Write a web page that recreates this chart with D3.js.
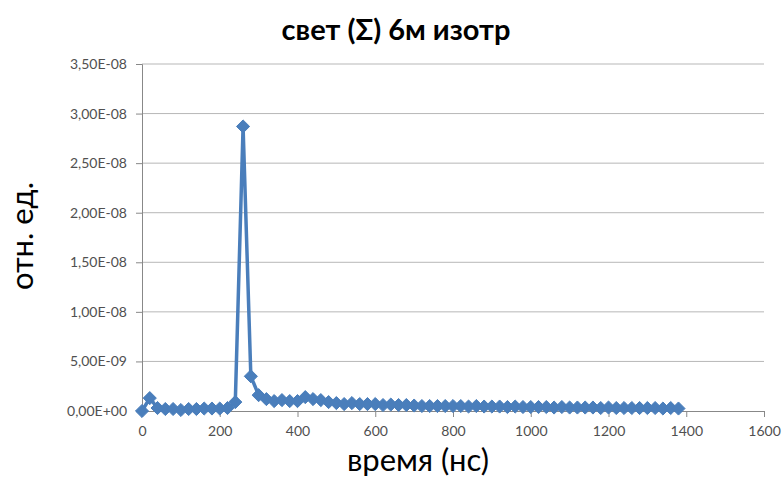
<!DOCTYPE html>
<html>
<head>
<meta charset="utf-8">
<script src="https://cdn.jsdelivr.net/npm/d3@7"></script>
<style>
  body { margin: 0; background: #fff; }
  text { font-family: Lato, "Open Sans", sans-serif; }
</style>
</head>
<body>
<div id="chart"></div>
<script>
// time, ns
const times = [0, 20, 40, 60, 80, 100, 120, 140, 160, 180, 200, 220, 240, 260, 280, 300, 320, 340, 360, 380,
  400, 420, 440, 460, 480, 500, 520, 540, 560, 580, 600, 620, 640, 660, 680, 700, 720, 740, 760, 780,
  800, 820, 840, 860, 880, 900, 920, 940, 960, 980, 1000, 1020, 1040, 1060, 1080, 1100, 1120, 1140, 1160, 1180,
  1200, 1220, 1240, 1260, 1280, 1300, 1320, 1340, 1360, 1380];
// light, rel. units
const light = [0, 1.3e-9, 3e-10, 2e-10, 2e-10, 1e-10, 2e-10, 2e-10, 2.5e-10, 2.5e-10, 2.5e-10, 3e-10, 9e-10, 2.87e-8, 3.5e-9, 1.6e-9, 1.2e-9, 1.0e-9, 1.1e-9, 1.0e-9,
  1.0e-9, 1.4e-9, 1.2e-9, 1.1e-9, 9e-10, 8e-10, 7e-10, 8e-10, 7e-10, 7e-10, 7e-10, 6e-10, 6.5e-10, 6e-10, 6e-10, 5.5e-10, 5e-10, 5e-10, 5e-10, 5e-10,
  5e-10, 5e-10, 4.5e-10, 5e-10, 4.5e-10, 4.5e-10, 4.5e-10, 4e-10, 4.5e-10, 4e-10, 4e-10, 4e-10, 4e-10, 3.5e-10, 4e-10, 3.5e-10, 3.5e-10, 3.5e-10, 3.5e-10, 3e-10,
  3.5e-10, 3e-10, 3e-10, 3e-10, 3e-10, 3e-10, 3e-10, 2.5e-10, 3e-10, 2.5e-10];

const xTicks = [0, 200, 400, 600, 800, 1000, 1200, 1400, 1600];
const yTicks = [0, 5e-9, 1e-8, 1.5e-8, 2e-8, 2.5e-8, 3e-8, 3.5e-8];
const yTickLabels = ["0,00E+00", "5,00E-09", "1,00E-08", "1,50E-08", "2,00E-08", "2,50E-08", "3,00E-08", "3,50E-08"];

const W = 782, H = 482;
const svg = d3.select("#chart").append("svg").attr("width", W).attr("height", H);

const x = d3.scaleLinear().domain([0, 1600]).range([142, 764]);
const y = d3.scaleLinear().domain([0, 3.5e-8]).range([411, 64]);

// gridlines
svg.append("g").selectAll("line").data(yTicks.slice(1)).enter().append("line")
  .attr("x1", x(0)).attr("x2", x(1600))
  .attr("y1", d => y(d)).attr("y2", d => y(d))
  .attr("stroke", "#b7b7b7").attr("stroke-width", 1);

const gy = svg.append("g").attr("transform", `translate(${x(0)},0)`)
  .call(d3.axisLeft(y).tickValues(yTicks).tickSize(6).tickPadding(9)
    .tickFormat((d, i) => yTickLabels[i]));
const gx = svg.append("g").attr("transform", `translate(0,${y(0)})`)
  .call(d3.axisBottom(x).tickValues(xTicks).tickSize(6).tickPadding(9)
    .tickFormat(d3.format("d")));

[gy, gx].forEach(g => {
  g.select(".domain").attr("stroke", "#888");
  g.selectAll(".tick line").attr("stroke", "#888");
  g.selectAll(".tick text").attr("fill", "#505050").style("font-size", "14px")
    .style("font-family", "Lato, 'Open Sans', sans-serif");
});

const pts = times.map((t, i) => [t, light[i]]);
svg.append("path").datum(pts)
  .attr("fill", "none").attr("stroke", "#4a7ebb").attr("stroke-width", 3.5)
  .attr("stroke-linejoin", "round")
  .attr("d", d3.line().x(d => x(d[0])).y(d => y(d[1])));

svg.append("g").selectAll("path").data(pts).enter().append("path")
  .attr("d", d3.symbol().type(d3.symbolDiamond2).size(110))
  .attr("transform", d => `translate(${x(d[0])},${y(d[1])})`)
  .attr("fill", "#4a7ebb").attr("stroke", "#4a7ebb").attr("stroke-width", 1);

svg.append("text").attr("x", 396).attr("y", 40).attr("text-anchor", "middle")
  .style("font-size", "29px").style("font-weight", "bold").attr("fill", "#000")
  .text("свет (Σ) 6м изотр");

svg.append("text").attr("x", 418).attr("y", 471).attr("text-anchor", "middle")
  .style("font-size", "31px").attr("fill", "#000")
  .text("время (нс)");

svg.append("text").attr("transform", "translate(33,236) rotate(-90)").attr("text-anchor", "middle")
  .style("font-size", "31px").attr("fill", "#000")
  .text("отн. ед.");
</script>
</body>
</html>
